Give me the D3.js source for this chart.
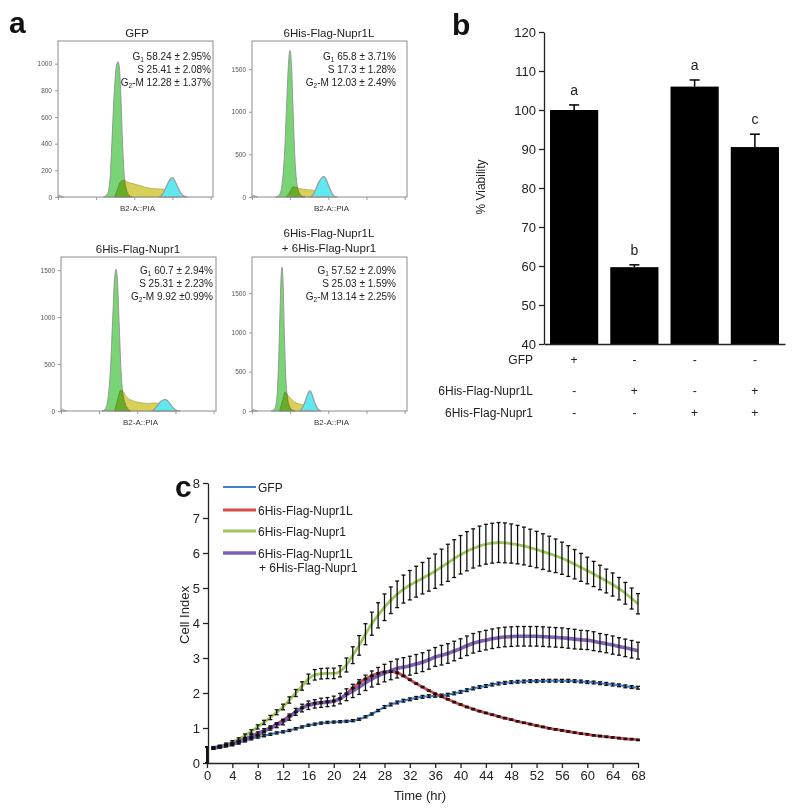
<!DOCTYPE html>
<html><head><meta charset="utf-8">
<script src="https://cdn.jsdelivr.net/npm/d3@7/dist/d3.min.js"></script>
<style>
body{margin:0;background:#fff;}
svg{font-family:"Liberation Sans",Arial,sans-serif;}
</style></head><body>
<svg id="fig" width="800" height="810"></svg>
<script>
// ================= DATA =================
// ---- panel a : cell-cycle histograms (channel, count) ----
const histTitles = [["GFP"],["6His-Flag-Nupr1L"],["6His-Flag-Nupr1"],["6His-Flag-Nupr1L","+ 6His-Flag-Nupr1"]];
const histYMax = [1170, 1830, 1640, 1960];
const histYTicks = [[0,200,400,600,800,1000],[0,500,1000,1500],[0,500,1000,1500],[0,500,1000,1500]];
const histXTicks = [0,256,512,768,1024];
const histXLabel = "B2-A::PIA";
const histG1 = [
  [[305,0],[330,20],[348,120],[362,420],[378,800],[392,985],[402,1015],[411,980],[421,780],[432,430],[444,170],[458,60],[476,15],[498,0]],
  [[160,0],[185,30],[202,150],[218,500],[233,1100],[246,1600],[255,1720],[264,1580],[276,1000],[288,450],[301,160],[316,50],[336,10],[356,0]],
  [[275,0],[298,25],[315,130],[332,450],[346,950],[359,1400],[369,1510],[379,1380],[391,900],[402,450],[414,200],[428,90],[448,25],[470,0]],
  [[130,0],[152,30],[166,150],[177,550],[187,1200],[195,1700],[201,1830],[208,1650],[217,1000],[227,420],[238,170],[252,60],[268,15],[288,0]]
];
const histS = [
  [[380,0],[400,60],[420,115],[440,125],[470,110],[520,95],[580,75],[640,62],[690,60],[720,55],[760,30],[790,10],[810,0]],
  [[230,0],[255,60],[275,120],[295,110],[330,95],[370,85],[410,80],[440,60],[470,25],[500,0]],
  [[360,0],[380,120],[400,220],[415,210],[440,150],[480,110],[530,90],[580,80],[620,85],[660,80],[700,60],[740,25],[770,0]],
  [[185,0],[205,130],[222,240],[240,200],[265,150],[290,110],[315,90],[340,80],[365,60],[390,30],[420,0]]
];
const histG2 = [
  [[680,0],[700,20],[720,60],[740,110],[760,140],[770,145],[785,120],[805,70],[825,30],[845,8],[870,0]],
  [[390,0],[410,30],[430,100],[450,180],[470,230],[483,240],[495,215],[515,130],[535,50],[555,10],[575,0]],
  [[610,0],[630,25],[650,65],[670,105],[690,120],[700,122],[715,110],[735,70],[755,30],[775,8],[800,0]],
  [[320,0],[335,30],[350,90],[365,170],[380,240],[389,255],[398,235],[412,160],[428,70],[445,20],[465,0]]
];
const histDebris = [
  [[0,0],[8,14],[20,8],[35,0]],
  [[0,0],[8,22],[20,12],[35,0]],
  [[0,0],[8,20],[20,10],[35,0]],
  [[0,0],[8,20],[20,10],[35,0]]
];
const g1Pct  = ["58.24 \u00b1 2.95%","65.8 \u00b1 3.71%","60.7 \u00b1 2.94%","57.52 \u00b1 2.09%"];
const sPct   = ["25.41 \u00b1 2.08%","17.3 \u00b1 1.28%","25.31 \u00b1 2.23%","25.03 \u00b1 1.59%"];
const g2mPct = ["12.28 \u00b1 1.37%","12.03 \u00b1 2.49%","9.92 \u00b10.99%","13.14 \u00b1 2.25%"];

// ---- panel b : viability ----
const viabGroups = ["g1","g2","g3","g4"];
const viability = [100, 59.7, 106, 90.5];
const viabilityErr = [1.3, 0.6, 1.7, 3.3];
const sigLetters = ["a","b","a","c"];
const viabTicks = [40,50,60,70,80,90,100,110,120];
const rowLabels = ["GFP","6His-Flag-Nupr1L","6His-Flag-Nupr1"];
const rowSigns = [["+","-","-","-"],["-","+","-","+"],["-","-","+","+"]];

// ---- panel c : cell index time course ----
const timeHr = [0,1,2,3,4,5,6,7,8,9,10,11,12,13,14,15,16,17,18,19,20,21,22,23,24,25,26,27,28,29,30,31,32,33,34,35,36,37,38,39,40,41,42,43,44,45,46,47,48,49,50,51,52,53,54,55,56,57,58,59,60,61,62,63,64,65,66,67,68];
const timeTicks = [0,4,8,12,16,20,24,28,32,36,40,44,48,52,56,60,64,68];
const ciTicks = [0,1,2,3,4,5,6,7,8];
const seriesNames = ["GFP","6His-Flag-Nupr1L","6His-Flag-Nupr1",["6His-Flag-Nupr1L","+ 6His-Flag-Nupr1"]];
const ciGFP = [0.23,0.42,0.45,0.48,0.52,0.57,0.63,0.69,0.74,0.78,
  0.82,0.86,0.89,0.93,0.98,1.03,1.08,1.11,1.14,1.16,
  1.17,1.18,1.19,1.21,1.25,1.32,1.40,1.50,1.60,1.67,
  1.73,1.78,1.82,1.86,1.89,1.91,1.92,1.93,1.95,1.99,
  2.03,2.08,2.13,2.17,2.20,2.24,2.27,2.29,2.31,2.32,
  2.33,2.34,2.34,2.35,2.35,2.35,2.35,2.35,2.34,2.33,
  2.31,2.30,2.28,2.26,2.24,2.22,2.19,2.17,2.15];
const ciNupr1L = [0.23,0.42,0.46,0.50,0.55,0.61,0.68,0.74,0.80,0.90,
  1.01,1.12,1.22,1.34,1.46,1.58,1.67,1.71,1.73,1.75,
  1.77,1.84,1.98,2.14,2.29,2.40,2.49,2.56,2.60,2.61,
  2.58,2.49,2.38,2.27,2.17,2.07,1.98,1.90,1.82,1.74,
  1.67,1.60,1.54,1.48,1.43,1.38,1.33,1.28,1.24,1.19,
  1.15,1.11,1.07,1.03,0.99,0.96,0.93,0.90,0.87,0.84,
  0.82,0.79,0.77,0.75,0.73,0.71,0.69,0.68,0.66];
const ciNupr1 = [0.23,0.44,0.48,0.53,0.60,0.68,0.78,0.90,1.03,1.16,
  1.30,1.45,1.60,1.80,2.00,2.20,2.40,2.52,2.55,2.56,
  2.56,2.62,2.80,3.08,3.36,3.68,3.98,4.22,4.45,4.65,
  4.82,4.97,5.08,5.18,5.28,5.38,5.48,5.60,5.72,5.84,
  5.95,6.05,6.13,6.20,6.25,6.28,6.30,6.29,6.27,6.24,
  6.20,6.15,6.10,6.04,5.98,5.92,5.85,5.77,5.68,5.59,
  5.50,5.40,5.30,5.20,5.10,4.98,4.85,4.70,4.55];
const ciBoth = [0.23,0.42,0.46,0.50,0.55,0.61,0.68,0.76,0.84,0.92,
  1.00,1.08,1.17,1.31,1.46,1.57,1.65,1.69,1.72,1.74,
  1.77,1.84,1.95,2.06,2.17,2.29,2.40,2.49,2.57,2.64,
  2.70,2.74,2.78,2.83,2.88,2.95,3.03,3.08,3.13,3.20,
  3.27,3.35,3.42,3.47,3.51,3.55,3.58,3.60,3.61,3.62,
  3.62,3.62,3.62,3.61,3.60,3.59,3.58,3.56,3.54,3.52,
  3.51,3.48,3.44,3.41,3.37,3.33,3.29,3.25,3.21];
const errGFP = [0.23,0.02,0.02,0.02,0.03,0.03,0.03,0.03,0.03,0.03,
  0.03,0.03,0.03,0.03,0.03,0.03,0.03,0.03,0.03,0.03,
  0.03,0.03,0.03,0.03,0.03,0.03,0.03,0.03,0.04,0.04,
  0.04,0.04,0.04,0.04,0.04,0.04,0.04,0.04,0.04,0.04,
  0.04,0.04,0.04,0.04,0.04,0.04,0.04,0.04,0.04,0.04,
  0.04,0.04,0.04,0.04,0.04,0.04,0.04,0.04,0.04,0.04,
  0.04,0.04,0.04,0.04,0.04,0.04,0.04,0.04,0.04];
const errNupr1L = [0.23,0.02,0.02,0.02,0.02,0.02,0.02,0.02,0.02,0.02,
  0.02,0.02,0.02,0.02,0.02,0.02,0.02,0.02,0.02,0.02,
  0.02,0.02,0.02,0.02,0.02,0.02,0.02,0.02,0.02,0.02,
  0.02,0.02,0.02,0.02,0.02,0.02,0.02,0.02,0.02,0.02,
  0.02,0.02,0.02,0.02,0.02,0.02,0.02,0.02,0.02,0.02,
  0.02,0.02,0.02,0.02,0.02,0.02,0.02,0.02,0.02,0.02,
  0.02,0.02,0.02,0.02,0.02,0.02,0.02,0.02,0.02];
const errNupr1 = [0.23,0.03,0.03,0.04,0.04,0.04,0.05,0.05,0.06,0.06,
  0.06,0.07,0.08,0.09,0.10,0.12,0.14,0.15,0.15,0.15,
  0.15,0.16,0.20,0.24,0.28,0.30,0.33,0.36,0.38,0.38,
  0.38,0.40,0.42,0.44,0.45,0.47,0.49,0.51,0.53,0.54,
  0.55,0.56,0.56,0.57,0.57,0.57,0.57,0.57,0.56,0.55,
  0.54,0.53,0.52,0.51,0.50,0.48,0.46,0.44,0.42,0.40,
  0.38,0.36,0.35,0.34,0.33,0.32,0.31,0.30,0.29];
const errBoth = [0.23,0.03,0.03,0.03,0.04,0.04,0.04,0.05,0.05,0.06,
  0.06,0.07,0.08,0.09,0.10,0.11,0.12,0.12,0.13,0.13,
  0.14,0.15,0.17,0.19,0.21,0.22,0.23,0.24,0.25,0.26,
  0.27,0.27,0.27,0.27,0.27,0.27,0.27,0.28,0.28,0.28,
  0.28,0.28,0.28,0.28,0.28,0.28,0.28,0.28,0.28,0.28,
  0.28,0.28,0.28,0.28,0.28,0.28,0.28,0.28,0.28,0.27,
  0.27,0.27,0.26,0.26,0.26,0.25,0.25,0.25,0.24];

// ================= DRAWING =================
const svg = d3.select("#fig");

// panel letters
[["a",9,33],["b",452,35],["c",175,497]].forEach(([t,x,y])=>{
  svg.append("text").attr("x",x).attr("y",y).attr("font-size",30).attr("font-weight","bold").attr("fill","#111").text(t);
});

// ---------- panel a ----------
const histBoxes = [
  {x:58, y:41, w:155, h:156, tx:137, ty:37, ar:211, ay:60},
  {x:252,y:41, w:155, h:156, tx:329, ty:37, ar:396, ay:60},
  {x:61, y:257,w:155, h:154, tx:138, ty:253,ar:213, ay:274},
  {x:252,y:257,w:155, h:154, tx:329, ty:237,ar:396, ay:274}
];
function drawHist(i){
  const b = histBoxes[i];
  const g = svg.append("g");
  const x = d3.scaleLinear().domain([0,1040]).range([b.x, b.x+b.w]);
  const y = d3.scaleLinear().domain([0,histYMax[i]]).range([b.y+b.h, b.y]);
  const area = d3.area().x(d=>x(d[0])).y0(y(0)).y1(d=>y(d[1])).curve(d3.curveMonotoneX);
  g.append("path").datum(histS[i]).attr("d",area).attr("fill","#d9d05a").attr("stroke","#b0a84a").attr("stroke-width",0.8);
  g.append("path").datum(histG1[i]).attr("d",area).attr("fill","#78d474").attr("stroke","#909090").attr("stroke-width",0.9).style("mix-blend-mode","multiply");
  g.append("path").datum(histG2[i]).attr("d",area).attr("fill","#5fe8ef").attr("stroke","#9a9a9a").attr("stroke-width",1.2);
  g.append("path").datum(histDebris[i]).attr("d",area).attr("fill","none").attr("stroke","#888").attr("stroke-width",0.8);
  g.append("rect").attr("x",b.x).attr("y",b.y).attr("width",b.w).attr("height",b.h)
    .attr("fill","none").attr("stroke","#8c8c8c").attr("stroke-width",1);
  const ya = g.append("g").attr("transform",`translate(${b.x},0)`)
    .call(d3.axisLeft(y).tickValues(histYTicks[i]).tickSize(3).tickSizeOuter(0).tickFormat(d3.format("d")));
  ya.select(".domain").remove();
  ya.selectAll("line").attr("stroke","#999");
  ya.selectAll("text").attr("font-size",6.5).attr("fill","#555").attr("font-family","Liberation Sans, Arial");
  const xa = g.append("g").attr("transform",`translate(0,${b.y+b.h})`)
    .call(d3.axisBottom(x).tickValues(histXTicks).tickSize(3).tickSizeOuter(0).tickFormat(""));
  xa.select(".domain").remove();
  xa.selectAll("line").attr("stroke","#999");
  g.append("text").attr("x",b.x+b.w/2+2).attr("y",b.y+b.h+14).attr("text-anchor","middle")
    .attr("font-size",8).attr("fill","#333").text(histXLabel);
  histTitles[i].forEach((t,k)=>{
    g.append("text").attr("x",b.tx).attr("y",b.ty+k*15).attr("text-anchor","middle")
      .attr("font-size",11.5).attr("fill","#222").text(t);
  });
  const rows = [["G","1",g1Pct[i]],["S","",sPct[i]],["G","2","-M "+g2mPct[i]]];
  rows.forEach((r,k)=>{
    const t = g.append("text").attr("x",b.ar).attr("y",b.ay+k*12.8).attr("text-anchor","end")
      .attr("font-size",10).attr("fill","#222");
    t.append("tspan").text(r[0]);
    if(r[1]){
      t.append("tspan").attr("font-size",6.5).attr("dy",2).text(r[1]);
      t.append("tspan").attr("dy",-2).text((r[1]==="1"?" ":"")+r[2]);
    } else {
      t.append("tspan").text(" "+r[2]);
    }
  });
}
[0,1,2,3].forEach(drawHist);

// ---------- panel b ----------
{
  const yb = d3.scaleLinear().domain([40,120]).range([344,32]);
  const xb = d3.scaleBand().domain(viabGroups).range([544,785]).paddingInner(0.2).paddingOuter(0.1);
  const g = svg.append("g");
  g.selectAll("rect.bar").data(viability).enter().append("rect")
    .attr("x",(d,i)=>xb(viabGroups[i])).attr("width",xb.bandwidth())
    .attr("y",d=>yb(d)).attr("height",d=>yb(40)-yb(d)).attr("fill","#000");
  viability.forEach((v,i)=>{
    const cx = xb(viabGroups[i])+xb.bandwidth()/2;
    g.append("line").attr("x1",cx).attr("x2",cx).attr("y1",yb(v)).attr("y2",yb(v+viabilityErr[i])).attr("stroke","#000").attr("stroke-width",1.5);
    g.append("line").attr("x1",cx-5).attr("x2",cx+5).attr("y1",yb(v+viabilityErr[i])).attr("y2",yb(v+viabilityErr[i])).attr("stroke","#000").attr("stroke-width",1.5);
    g.append("text").attr("x",cx).attr("y",yb(v+viabilityErr[i])-10).attr("text-anchor","middle")
      .attr("font-size",14).attr("fill","#222").text(sigLetters[i]);
  });
  const ya = g.append("g").attr("transform","translate(544,0)")
    .call(d3.axisLeft(yb).tickValues(viabTicks).tickSize(5).tickSizeOuter(0));
  ya.select(".domain").attr("stroke","#222").attr("stroke-width",1.3);
  ya.selectAll("line").attr("stroke","#222").attr("stroke-width",1.3);
  ya.selectAll("text").attr("font-size",13).attr("fill","#222").attr("font-family","Liberation Sans, Arial");
  const xa = g.append("g").attr("transform","translate(0,344)")
    .call(d3.axisBottom(xb).tickSize(0).tickSizeOuter(0).tickFormat(""));
  xa.select(".domain").attr("stroke","#222").attr("stroke-width",1.3);
  g.append("text").attr("transform","translate(485,187) rotate(-90)").attr("text-anchor","middle")
    .attr("font-size",12).attr("fill","#222").text("% Viability");
  const rowY = [364,395,417];
  rowLabels.forEach((lab,r)=>{
    g.append("text").attr("x",533).attr("y",rowY[r]).attr("text-anchor","end").attr("font-size",12).attr("fill","#222").text(lab);
    rowSigns[r].forEach((s,i)=>{
      g.append("text").attr("x",xb(viabGroups[i])+xb.bandwidth()/2).attr("y",rowY[r])
        .attr("text-anchor","middle").attr("font-size",12).attr("fill","#222").text(s);
    });
  });
}

// ---------- panel c ----------
{
  const xc = d3.scaleLinear().domain([0,68]).range([207,638]);
  const yc = d3.scaleLinear().domain([0,8]).range([763,483]);
  const g = svg.append("g");
  const series = [
    {name:seriesNames[0], v:ciGFP,    e:errGFP,    color:"#3f80cf", w:2},
    {name:seriesNames[1], v:ciNupr1L, e:errNupr1L, color:"#d34b4b", w:2.8},
    {name:seriesNames[2], v:ciNupr1,  e:errNupr1,  color:"#9dc55a", w:2.8},
    {name:seriesNames[3], v:ciBoth,   e:errBoth,   color:"#7f62b3", w:3.6}
  ];
  const line = d3.line().x((d,i)=>xc(timeHr[i+1])).y(d=>yc(d)).curve(d3.curveMonotoneX);
  series.forEach(s=>{
    g.append("path").datum(s.v.slice(1)).attr("d",line).attr("fill","none")
      .attr("stroke",s.color).attr("stroke-width",s.w);
  });
  series.forEach(s=>{
    const eg = g.append("g").attr("stroke","#111").attr("stroke-width",1.3);
    s.v.forEach((v,i)=>{
      const cx = xc(timeHr[i]), lo = yc(v - s.e[i]), hi = yc(v + s.e[i]);
      eg.append("line").attr("x1",cx).attr("x2",cx).attr("y1",lo).attr("y2",hi);
      eg.append("line").attr("x1",cx-2).attr("x2",cx+2).attr("y1",lo).attr("y2",lo);
      eg.append("line").attr("x1",cx-2).attr("x2",cx+2).attr("y1",hi).attr("y2",hi);
    });
  });
  const ya = g.append("g").attr("transform","translate(208,0)")
    .call(d3.axisLeft(yc).tickValues(ciTicks).tickSize(5).tickSizeOuter(0));
  ya.select(".domain").attr("stroke","#222").attr("stroke-width",1.3);
  ya.selectAll("line").attr("stroke","#222").attr("stroke-width",1.3);
  ya.selectAll("text").attr("font-size",13).attr("fill","#222").attr("font-family","Liberation Sans, Arial");
  const xa = g.append("g").attr("transform","translate(0,763)")
    .call(d3.axisBottom(xc).tickValues(timeTicks).tickSize(5).tickSizeOuter(0));
  xa.select(".domain").attr("stroke","#222").attr("stroke-width",1.3);
  xa.selectAll("line").attr("stroke","#222").attr("stroke-width",1.3);
  xa.selectAll("text").attr("font-size",13).attr("fill","#222").attr("font-family","Liberation Sans, Arial");
  g.append("text").attr("x",420).attr("y",800).attr("text-anchor","middle").attr("font-size",13).attr("fill","#222").text("Time  (hr)");
  g.append("text").attr("transform","translate(189,615) rotate(-90)").attr("text-anchor","middle")
    .attr("font-size",13).attr("fill","#222").text("Cell Index");
  const legY = [487,510,531,553];
  series.forEach((s,i)=>{
    g.append("line").attr("x1",223).attr("x2",256).attr("y1",legY[i]).attr("y2",legY[i])
      .attr("stroke",s.color).attr("stroke-width",s.w);
    const names = Array.isArray(s.name)?s.name:[s.name];
    names.forEach((n,k)=>{
      g.append("text").attr("x",258+(k?1:0)).attr("y",legY[i]+4.5+k*14.5).attr("font-size",12).attr("fill","#222").text(n);
    });
  });
}
</script>
</body></html>
